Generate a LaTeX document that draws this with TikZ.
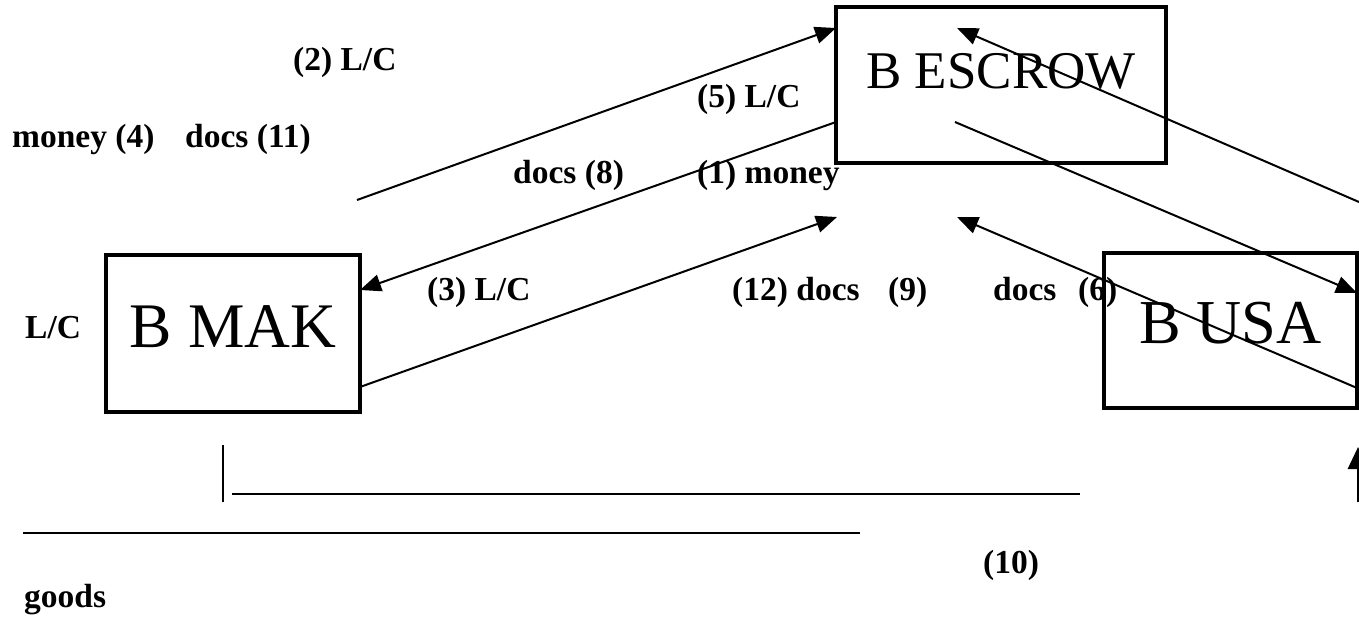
\documentclass[tikz,border=0pt]{standalone}
\usepackage{fontspec}
\setmainfont{Liberation Serif}
\usetikzlibrary{arrows.meta}
\begin{document}
\begin{tikzpicture}[x=1pt,y=-1pt,
  box/.style={draw, line width=3.4pt, inner sep=0pt, rectangle, anchor=base},
  lab/.style={font=\fontsize{33.5}{40}\selectfont\bfseries, inner sep=0pt, anchor=base west},
  conn/.style={line width=2pt, -{Triangle[length=21pt,width=17pt]}},
  rule/.style={line width=2.8pt}]
\useasboundingbox (0,0) rectangle (1359,621);
% boxes
\node[box, minimum width=330pt, text height=81pt, text depth=75pt,
      font=\fontsize{53}{60}\selectfont] (esc) at (1001,88) {B ESCROW};
\node[box, minimum width=254pt, text height=92pt, text depth=65pt,
      font=\fontsize{63.5}{70}\selectfont] (mak) at (233,347) {B MAK};
\node[box, minimum width=253pt, text height=90pt, text depth=65pt,
      font=\fontsize{62.5}{70}\selectfont] (usa) at (1230.5,343) {B USA};
% labels
\node[lab] (l2) at (293,70) {(2) L/C};
\node[lab] (l4) at (12,147) {money (4)};
\node[lab] (l11) at (185,147) {docs (11)};
\node[lab] (l5) at (697,107) {(5) L/C};
\node[lab] (l8) at (513,183) {docs (8)};
\node[lab] (l1) at (697,183) {(1) money};
\node[lab] (llc) at (25,338) {L/C};
\node[lab] (l3) at (427,300) {(3) L/C};
\node[lab] (l12) at (732,300) {(12) docs};
\node[lab] (l9) at (888,300) {(9)};
\node[lab] (l6a) at (993,300) {docs};
\node[lab] (l6) at (1078,300) {(6)};
\node[lab] (l10) at (983,573) {(10)};
\node[lab] (lg) at (24,607) {goods};
% connector end points
\coordinate (m2) at (357,200);
\coordinate (e2) at (836,28);
\coordinate (e8) at (836,122);
\coordinate (k8) at (360,290);
\coordinate (k12) at (360,387);
\coordinate (t1) at (837,217);
\coordinate (r11) at (1359,202);
\coordinate (e11) at (957,28);
\coordinate (e5) at (955,122);
\coordinate (u5) at (1357,293);
\coordinate (u6) at (1357,388);
\coordinate (t6) at (957,217);
\coordinate (v1) at (223,445);
\coordinate (v2) at (223,502);
\coordinate (h1a) at (232,494);
\coordinate (h1b) at (1080,494);
\coordinate (h2a) at (23,533);
\coordinate (h2b) at (860,533);
\coordinate (g1) at (1358,502);
\coordinate (g2) at (1358,447);
% connectors
\draw[conn] (m2) -- (e2);
\draw[conn] (e8) -- (k8);
\draw[conn] (k12) -- (t1);
\draw[conn] (r11) -- (e11);
\draw[conn] (e5) -- (u5);
\draw[conn] (u6) -- (t6);
% goods lines
\draw[line width=2.6pt] (v1) -- (v2);
\draw[rule] (h1a) -- (h1b);
\draw[rule] (h2a) -- (h2b);
\draw[line width=3pt, -{Triangle[length=22pt,width=20pt]}] (g1) -- (g2);
\end{tikzpicture}
\end{document}
